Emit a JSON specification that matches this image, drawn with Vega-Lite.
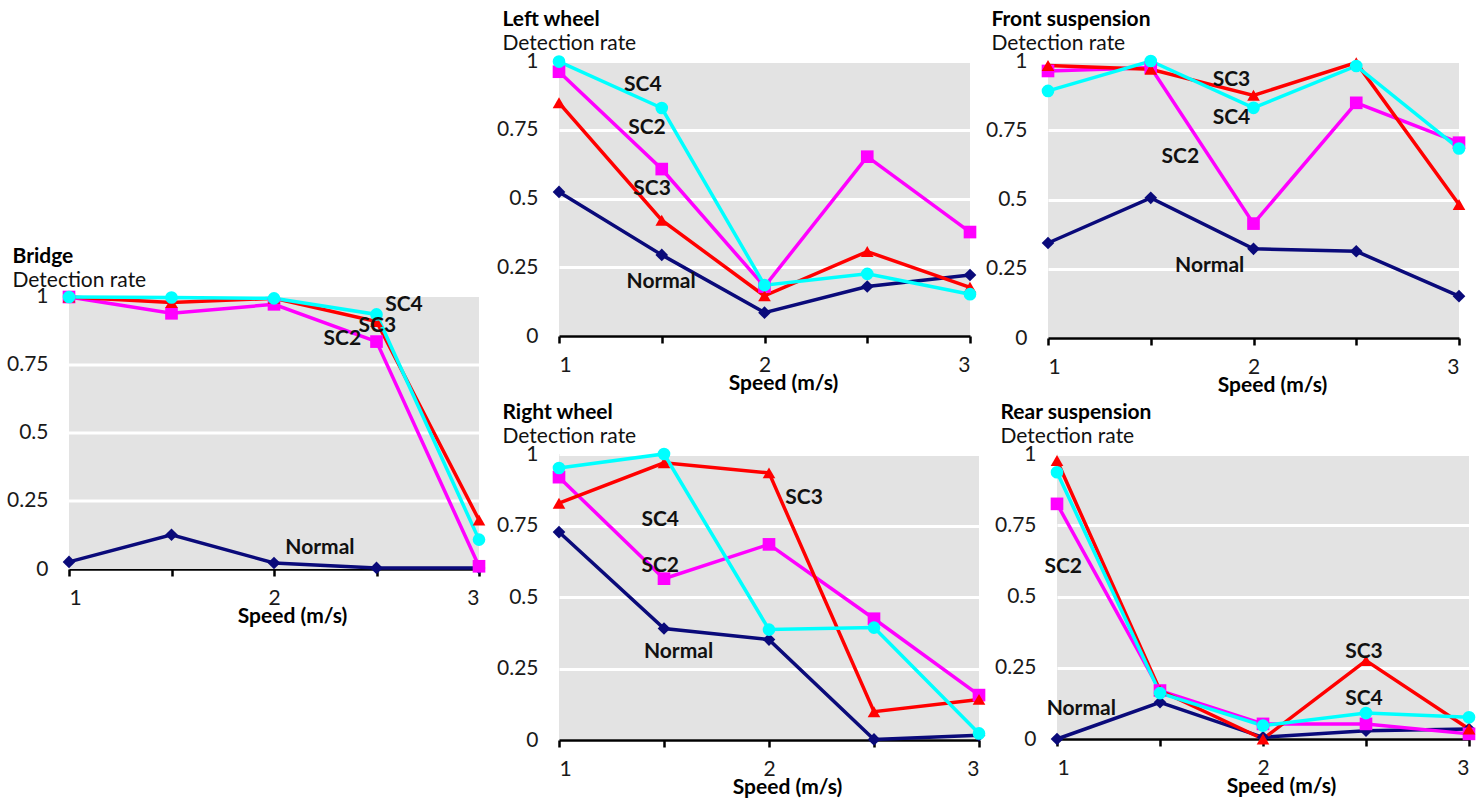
{
  "$schema": "https://vega.github.io/schema/vega-lite/v6.json",
  "padding": {"left": 6, "top": 9, "right": 5, "bottom": 1},
  "config": {
    "font": "Lato",
    "view": {"fill": "#e3e3e3", "stroke": null},
    "axis": {"labelFont": "Lato", "labelFontSize": 21, "labelColor": "#1a1a1a", "titleFont": "Lato", "titleFontSize": 21, "titleFontWeight": "bold", "titleColor": "black"},
    "axisY": {"domain": false, "ticks": false, "grid": true, "gridColor": "white", "gridWidth": 3, "gridOpacity": 1, "labelPadding": 21, "labelExpr": "'' + datum.value"},
    "axisX": {"domain": true, "domainColor": "black", "domainWidth": 2.5, "ticks": true, "tickColor": "black", "tickWidth": 2.5, "tickSize": 7, "grid": false, "labelPadding": 11, "titlePadding": -3, "labelExpr": "datum.value % 1 == 0 ? '' + datum.value : ''"},
    "title": {"anchor": "start", "frame": "bounds", "font": "Lato", "fontSize": 21, "fontWeight": "bold", "color": "black", "subtitleFont": "Lato", "subtitleFontSize": 21, "subtitleColor": "#111111", "subtitlePadding": 0, "offset": -4, "dx": 6}
  },
  "datasets": {
    "series": [
      {"p": "Bridge", "s": "Normal", "x": 1, "y": 0.026}, {"p": "Bridge", "s": "Normal", "x": 1.5, "y": 0.126}, {"p": "Bridge", "s": "Normal", "x": 2, "y": 0.022}, {"p": "Bridge", "s": "Normal", "x": 2.5, "y": 0.004}, {"p": "Bridge", "s": "Normal", "x": 3, "y": 0.004},
      {"p": "Bridge", "s": "SC2", "x": 1, "y": 1.0}, {"p": "Bridge", "s": "SC2", "x": 1.5, "y": 0.94}, {"p": "Bridge", "s": "SC2", "x": 2, "y": 0.973}, {"p": "Bridge", "s": "SC2", "x": 2.5, "y": 0.836}, {"p": "Bridge", "s": "SC2", "x": 3, "y": 0.01},
      {"p": "Bridge", "s": "SC3", "x": 1, "y": 1.0}, {"p": "Bridge", "s": "SC3", "x": 1.5, "y": 0.98}, {"p": "Bridge", "s": "SC3", "x": 2, "y": 0.995}, {"p": "Bridge", "s": "SC3", "x": 2.5, "y": 0.91}, {"p": "Bridge", "s": "SC3", "x": 3, "y": 0.18},
      {"p": "Bridge", "s": "SC4", "x": 1, "y": 1.0}, {"p": "Bridge", "s": "SC4", "x": 1.5, "y": 0.998}, {"p": "Bridge", "s": "SC4", "x": 2, "y": 0.995}, {"p": "Bridge", "s": "SC4", "x": 2.5, "y": 0.936}, {"p": "Bridge", "s": "SC4", "x": 3, "y": 0.108},

      {"p": "Left wheel", "s": "Normal", "x": 1, "y": 0.524}, {"p": "Left wheel", "s": "Normal", "x": 1.5, "y": 0.295}, {"p": "Left wheel", "s": "Normal", "x": 2, "y": 0.085}, {"p": "Left wheel", "s": "Normal", "x": 2.5, "y": 0.18}, {"p": "Left wheel", "s": "Normal", "x": 3, "y": 0.222},
      {"p": "Left wheel", "s": "SC2", "x": 1, "y": 0.961}, {"p": "Left wheel", "s": "SC2", "x": 1.5, "y": 0.607}, {"p": "Left wheel", "s": "SC2", "x": 2, "y": 0.18}, {"p": "Left wheel", "s": "SC2", "x": 2.5, "y": 0.652}, {"p": "Left wheel", "s": "SC2", "x": 3, "y": 0.378},
      {"p": "Left wheel", "s": "SC3", "x": 1, "y": 0.848}, {"p": "Left wheel", "s": "SC3", "x": 1.5, "y": 0.421}, {"p": "Left wheel", "s": "SC3", "x": 2, "y": 0.146}, {"p": "Left wheel", "s": "SC3", "x": 2.5, "y": 0.307}, {"p": "Left wheel", "s": "SC3", "x": 3, "y": 0.177},
      {"p": "Left wheel", "s": "SC4", "x": 1, "y": 0.998}, {"p": "Left wheel", "s": "SC4", "x": 1.5, "y": 0.829}, {"p": "Left wheel", "s": "SC4", "x": 2, "y": 0.185}, {"p": "Left wheel", "s": "SC4", "x": 2.5, "y": 0.226}, {"p": "Left wheel", "s": "SC4", "x": 3, "y": 0.152},

      {"p": "Front suspension", "s": "Normal", "x": 1, "y": 0.343}, {"p": "Front suspension", "s": "Normal", "x": 1.5, "y": 0.506}, {"p": "Front suspension", "s": "Normal", "x": 2, "y": 0.322}, {"p": "Front suspension", "s": "Normal", "x": 2.5, "y": 0.313}, {"p": "Front suspension", "s": "Normal", "x": 3, "y": 0.151},
      {"p": "Front suspension", "s": "SC2", "x": 1, "y": 0.964}, {"p": "Front suspension", "s": "SC2", "x": 1.5, "y": 0.976}, {"p": "Front suspension", "s": "SC2", "x": 2, "y": 0.413}, {"p": "Front suspension", "s": "SC2", "x": 2.5, "y": 0.849}, {"p": "Front suspension", "s": "SC2", "x": 3, "y": 0.705},
      {"p": "Front suspension", "s": "SC3", "x": 1, "y": 0.984}, {"p": "Front suspension", "s": "SC3", "x": 1.5, "y": 0.97}, {"p": "Front suspension", "s": "SC3", "x": 2, "y": 0.876}, {"p": "Front suspension", "s": "SC3", "x": 2.5, "y": 0.994}, {"p": "Front suspension", "s": "SC3", "x": 3, "y": 0.482},
      {"p": "Front suspension", "s": "SC4", "x": 1, "y": 0.892}, {"p": "Front suspension", "s": "SC4", "x": 1.5, "y": 1.0}, {"p": "Front suspension", "s": "SC4", "x": 2, "y": 0.831}, {"p": "Front suspension", "s": "SC4", "x": 2.5, "y": 0.982}, {"p": "Front suspension", "s": "SC4", "x": 3, "y": 0.684},

      {"p": "Right wheel", "s": "Normal", "x": 1, "y": 0.727}, {"p": "Right wheel", "s": "Normal", "x": 1.5, "y": 0.39}, {"p": "Right wheel", "s": "Normal", "x": 2, "y": 0.351}, {"p": "Right wheel", "s": "Normal", "x": 2.5, "y": 0.002}, {"p": "Right wheel", "s": "Normal", "x": 3, "y": 0.017},
      {"p": "Right wheel", "s": "SC2", "x": 1, "y": 0.919}, {"p": "Right wheel", "s": "SC2", "x": 1.5, "y": 0.564}, {"p": "Right wheel", "s": "SC2", "x": 2, "y": 0.684}, {"p": "Right wheel", "s": "SC2", "x": 2.5, "y": 0.424}, {"p": "Right wheel", "s": "SC2", "x": 3, "y": 0.157},
      {"p": "Right wheel", "s": "SC3", "x": 1, "y": 0.828}, {"p": "Right wheel", "s": "SC3", "x": 1.5, "y": 0.969}, {"p": "Right wheel", "s": "SC3", "x": 2, "y": 0.934}, {"p": "Right wheel", "s": "SC3", "x": 2.5, "y": 0.099}, {"p": "Right wheel", "s": "SC3", "x": 3, "y": 0.142},
      {"p": "Right wheel", "s": "SC4", "x": 1, "y": 0.951}, {"p": "Right wheel", "s": "SC4", "x": 1.5, "y": 1.0}, {"p": "Right wheel", "s": "SC4", "x": 2, "y": 0.386}, {"p": "Right wheel", "s": "SC4", "x": 2.5, "y": 0.393}, {"p": "Right wheel", "s": "SC4", "x": 3, "y": 0.023},

      {"p": "Rear suspension", "s": "Normal", "x": 1, "y": 0.0}, {"p": "Rear suspension", "s": "Normal", "x": 1.5, "y": 0.129}, {"p": "Rear suspension", "s": "Normal", "x": 2, "y": 0.006}, {"p": "Rear suspension", "s": "Normal", "x": 2.5, "y": 0.029}, {"p": "Rear suspension", "s": "Normal", "x": 3, "y": 0.035},
      {"p": "Rear suspension", "s": "SC2", "x": 1, "y": 0.825}, {"p": "Rear suspension", "s": "SC2", "x": 1.5, "y": 0.17}, {"p": "Rear suspension", "s": "SC2", "x": 2, "y": 0.053}, {"p": "Rear suspension", "s": "SC2", "x": 2.5, "y": 0.053}, {"p": "Rear suspension", "s": "SC2", "x": 3, "y": 0.018},
      {"p": "Rear suspension", "s": "SC3", "x": 1, "y": 0.977}, {"p": "Rear suspension", "s": "SC3", "x": 1.5, "y": 0.17}, {"p": "Rear suspension", "s": "SC3", "x": 2, "y": 0.0}, {"p": "Rear suspension", "s": "SC3", "x": 2.5, "y": 0.275}, {"p": "Rear suspension", "s": "SC3", "x": 3, "y": 0.035},
      {"p": "Rear suspension", "s": "SC4", "x": 1, "y": 0.936}, {"p": "Rear suspension", "s": "SC4", "x": 1.5, "y": 0.161}, {"p": "Rear suspension", "s": "SC4", "x": 2, "y": 0.047}, {"p": "Rear suspension", "s": "SC4", "x": 2.5, "y": 0.091}, {"p": "Rear suspension", "s": "SC4", "x": 3, "y": 0.076}
    ],
    "labels": [
      {"p": "Bridge", "s": "SC4", "x": 2.634, "y": 0.969}, {"p": "Bridge", "s": "SC3", "x": 2.504, "y": 0.893}, {"p": "Bridge", "s": "SC2", "x": 2.333, "y": 0.844}, {"p": "Bridge", "s": "Normal", "x": 2.224, "y": 0.077},
      {"p": "Left wheel", "s": "SC4", "x": 1.408, "y": 0.912}, {"p": "Left wheel", "s": "SC2", "x": 1.428, "y": 0.756}, {"p": "Left wheel", "s": "SC3", "x": 1.453, "y": 0.534}, {"p": "Left wheel", "s": "Normal", "x": 1.497, "y": 0.198},
      {"p": "Front suspension", "s": "SC3", "x": 1.893, "y": 0.931}, {"p": "Front suspension", "s": "SC4", "x": 1.893, "y": 0.795}, {"p": "Front suspension", "s": "SC2", "x": 1.644, "y": 0.654}, {"p": "Front suspension", "s": "Normal", "x": 1.787, "y": 0.259},
      {"p": "Right wheel", "s": "SC3", "x": 2.167, "y": 0.847}, {"p": "Right wheel", "s": "SC4", "x": 1.482, "y": 0.77}, {"p": "Right wheel", "s": "SC2", "x": 1.482, "y": 0.61}, {"p": "Right wheel", "s": "Normal", "x": 1.569, "y": 0.308},
      {"p": "Rear suspension", "s": "SC2", "x": 1.03, "y": 0.602}, {"p": "Rear suspension", "s": "SC3", "x": 2.49, "y": 0.304}, {"p": "Rear suspension", "s": "SC4", "x": 2.49, "y": 0.14}, {"p": "Rear suspension", "s": "Normal", "x": 1.118, "y": 0.105}
    ]
  },
  "spacing": 10,
  "hconcat": [
    {
      "title": {"text": "Bridge", "subtitle": "Detection rate", "offset": -230},
      "width": 410, "height": 508,
      "view": {"fill": "white", "stroke": null},
      "layer": [
        {"data": {"values": [{"k": "background"}]}, "mark": {"type": "rect", "fill": "#e3e3e3", "opacity": 1},
         "encoding": {
           "x": {"datum": 1, "type": "quantitative", "scale": {"domain": [1, 3], "nice": false, "zero": false}, "axis": {"values": [1, 1.5, 2, 2.5, 3], "title": "Speed (m/s)", "titleX": 223}},
           "x2": {"datum": 3},
           "y": {"datum": 0, "type": "quantitative", "scale": {"domain": [0, 1.8676], "nice": false}, "axis": {"values": [0, 0.25, 0.5, 0.75, 1], "title": null, "grid": false}},
           "y2": {"datum": 1}}},
        {"data": {"values": [{"v": 0.25}, {"v": 0.5}, {"v": 0.75}]}, "mark": {"type": "rule", "color": "white", "strokeWidth": 3},
         "encoding": {"x": {"datum": 1, "type": "quantitative"}, "x2": {"datum": 3}, "y": {"field": "v", "type": "quantitative"}}},
        {"data": {"name": "series"}, "transform": [{"filter": "datum.p == 'Bridge'"}], "mark": {"type": "line", "strokeWidth": 3.5},
         "encoding": {"x": {"field": "x", "type": "quantitative"}, "y": {"field": "y", "type": "quantitative"},
           "color": {"field": "s", "type": "nominal", "scale": {"domain": ["Normal", "SC2", "SC3", "SC4"], "range": ["#0a0a7a", "#ff00ff", "#ff0000", "#00ffff"]}, "legend": null}}},
        {"data": {"name": "series"}, "transform": [{"filter": "datum.p == 'Bridge'"}], "mark": {"type": "point", "filled": true, "opacity": 1, "size": 160},
         "encoding": {"x": {"field": "x", "type": "quantitative"}, "y": {"field": "y", "type": "quantitative"},
           "color": {"field": "s", "type": "nominal", "legend": null}, "shape": {"field": "s", "type": "nominal", "scale": {"domain": ["Normal", "SC2", "SC3", "SC4"], "range": ["diamond", "square", "triangle-up", "circle"]}, "legend": null}}},
        {"data": {"name": "labels"}, "transform": [{"filter": "datum.p == 'Bridge'"}], "mark": {"type": "text", "font": "Lato", "fontSize": 21, "fontWeight": "bold", "color": "#111111"},
         "encoding": {"x": {"field": "x", "type": "quantitative"}, "y": {"field": "y", "type": "quantitative"}, "text": {"field": "s"}}}
      ]
    },
    {
      "spacing": 7,
      "vconcat": [
        {
          "spacing": 8,
          "hconcat": [
            {
              "title": {"text": "Left wheel", "subtitle": "Detection rate"},
              "width": 411, "height": 275,
              "encoding": {
                "x": {"field": "x", "type": "quantitative", "scale": {"domain": [1, 3], "nice": false, "zero": false}, "axis": {"values": [1, 1.5, 2, 2.5, 3], "title": "Speed (m/s)", "titleX": 224}},
                "y": {"field": "y", "type": "quantitative", "scale": {"domain": [0, 1], "nice": false}, "axis": {"values": [0, 0.25, 0.5, 0.75, 1], "title": null}}
              },
              "layer": [
                {"data": {"name": "series"}, "transform": [{"filter": "datum.p == 'Left wheel'"}], "mark": {"type": "line", "strokeWidth": 3.5},
                 "encoding": {"color": {"field": "s", "type": "nominal", "scale": {"domain": ["Normal", "SC2", "SC3", "SC4"], "range": ["#0a0a7a", "#ff00ff", "#ff0000", "#00ffff"]}, "legend": null}}},
                {"data": {"name": "series"}, "transform": [{"filter": "datum.p == 'Left wheel'"}], "mark": {"type": "point", "filled": true, "opacity": 1, "size": 160},
                 "encoding": {"color": {"field": "s", "type": "nominal", "legend": null}, "shape": {"field": "s", "type": "nominal", "scale": {"domain": ["Normal", "SC2", "SC3", "SC4"], "range": ["diamond", "square", "triangle-up", "circle"]}, "legend": null}}},
                {"data": {"name": "labels"}, "transform": [{"filter": "datum.p == 'Left wheel'"}], "mark": {"type": "text", "font": "Lato", "fontSize": 21, "fontWeight": "bold", "color": "#111111"},
                 "encoding": {"text": {"field": "s"}}}
              ]
            },
            {
              "title": {"text": "Front suspension", "subtitle": "Detection rate"},
              "width": 411, "height": 277,
              "encoding": {
                "x": {"field": "x", "type": "quantitative", "scale": {"domain": [1, 3], "nice": false, "zero": false}, "axis": {"values": [1, 1.5, 2, 2.5, 3], "title": "Speed (m/s)", "titleX": 224}},
                "y": {"field": "y", "type": "quantitative", "scale": {"domain": [0, 1], "nice": false}, "axis": {"values": [0, 0.25, 0.5, 0.75, 1], "title": null}}
              },
              "layer": [
                {"data": {"name": "series"}, "transform": [{"filter": "datum.p == 'Front suspension'"}], "mark": {"type": "line", "strokeWidth": 3.5},
                 "encoding": {"color": {"field": "s", "type": "nominal", "scale": {"domain": ["Normal", "SC2", "SC3", "SC4"], "range": ["#0a0a7a", "#ff00ff", "#ff0000", "#00ffff"]}, "legend": null}}},
                {"data": {"name": "series"}, "transform": [{"filter": "datum.p == 'Front suspension'"}], "mark": {"type": "point", "filled": true, "opacity": 1, "size": 160},
                 "encoding": {"color": {"field": "s", "type": "nominal", "legend": null}, "shape": {"field": "s", "type": "nominal", "scale": {"domain": ["Normal", "SC2", "SC3", "SC4"], "range": ["diamond", "square", "triangle-up", "circle"]}, "legend": null}}},
                {"data": {"name": "labels"}, "transform": [{"filter": "datum.p == 'Front suspension'"}], "mark": {"type": "text", "font": "Lato", "fontSize": 21, "fontWeight": "bold", "color": "#111111"},
                 "encoding": {"text": {"field": "s"}}}
              ]
            }
          ]
        },
        {
          "spacing": 8,
          "hconcat": [
            {
              "title": {"text": "Right wheel", "subtitle": "Detection rate"},
              "width": 420, "height": 286,
              "encoding": {
                "x": {"field": "x", "type": "quantitative", "scale": {"domain": [1, 3], "nice": false, "zero": false}, "axis": {"values": [1, 1.5, 2, 2.5, 3], "title": "Speed (m/s)", "titleX": 228}},
                "y": {"field": "y", "type": "quantitative", "scale": {"domain": [0, 1], "nice": false}, "axis": {"values": [0, 0.25, 0.5, 0.75, 1], "title": null}}
              },
              "layer": [
                {"data": {"name": "series"}, "transform": [{"filter": "datum.p == 'Right wheel'"}], "mark": {"type": "line", "strokeWidth": 3.5},
                 "encoding": {"color": {"field": "s", "type": "nominal", "scale": {"domain": ["Normal", "SC2", "SC3", "SC4"], "range": ["#0a0a7a", "#ff00ff", "#ff0000", "#00ffff"]}, "legend": null}}},
                {"data": {"name": "series"}, "transform": [{"filter": "datum.p == 'Right wheel'"}], "mark": {"type": "point", "filled": true, "opacity": 1, "size": 160},
                 "encoding": {"color": {"field": "s", "type": "nominal", "legend": null}, "shape": {"field": "s", "type": "nominal", "scale": {"domain": ["Normal", "SC2", "SC3", "SC4"], "range": ["diamond", "square", "triangle-up", "circle"]}, "legend": null}}},
                {"data": {"name": "labels"}, "transform": [{"filter": "datum.p == 'Right wheel'"}], "mark": {"type": "text", "font": "Lato", "fontSize": 21, "fontWeight": "bold", "color": "#111111"},
                 "encoding": {"text": {"field": "s"}}}
              ]
            },
            {
              "title": {"text": "Rear suspension", "subtitle": "Detection rate"},
              "width": 412, "height": 285,
              "encoding": {
                "x": {"field": "x", "type": "quantitative", "scale": {"domain": [1, 3], "nice": false, "zero": false}, "axis": {"values": [1, 1.5, 2, 2.5, 3], "title": "Speed (m/s)", "titleX": 224}},
                "y": {"field": "y", "type": "quantitative", "scale": {"domain": [0, 1], "nice": false}, "axis": {"values": [0, 0.25, 0.5, 0.75, 1], "title": null}}
              },
              "layer": [
                {"data": {"name": "series"}, "transform": [{"filter": "datum.p == 'Rear suspension'"}], "mark": {"type": "line", "strokeWidth": 3.5},
                 "encoding": {"color": {"field": "s", "type": "nominal", "scale": {"domain": ["Normal", "SC2", "SC3", "SC4"], "range": ["#0a0a7a", "#ff00ff", "#ff0000", "#00ffff"]}, "legend": null}}},
                {"data": {"name": "series"}, "transform": [{"filter": "datum.p == 'Rear suspension'"}], "mark": {"type": "point", "filled": true, "opacity": 1, "size": 160},
                 "encoding": {"color": {"field": "s", "type": "nominal", "legend": null}, "shape": {"field": "s", "type": "nominal", "scale": {"domain": ["Normal", "SC2", "SC3", "SC4"], "range": ["diamond", "square", "triangle-up", "circle"]}, "legend": null}}},
                {"data": {"name": "labels"}, "transform": [{"filter": "datum.p == 'Rear suspension'"}], "mark": {"type": "text", "font": "Lato", "fontSize": 21, "fontWeight": "bold", "color": "#111111"},
                 "encoding": {"text": {"field": "s"}}}
              ]
            }
          ]
        }
      ]
    }
  ]
}
